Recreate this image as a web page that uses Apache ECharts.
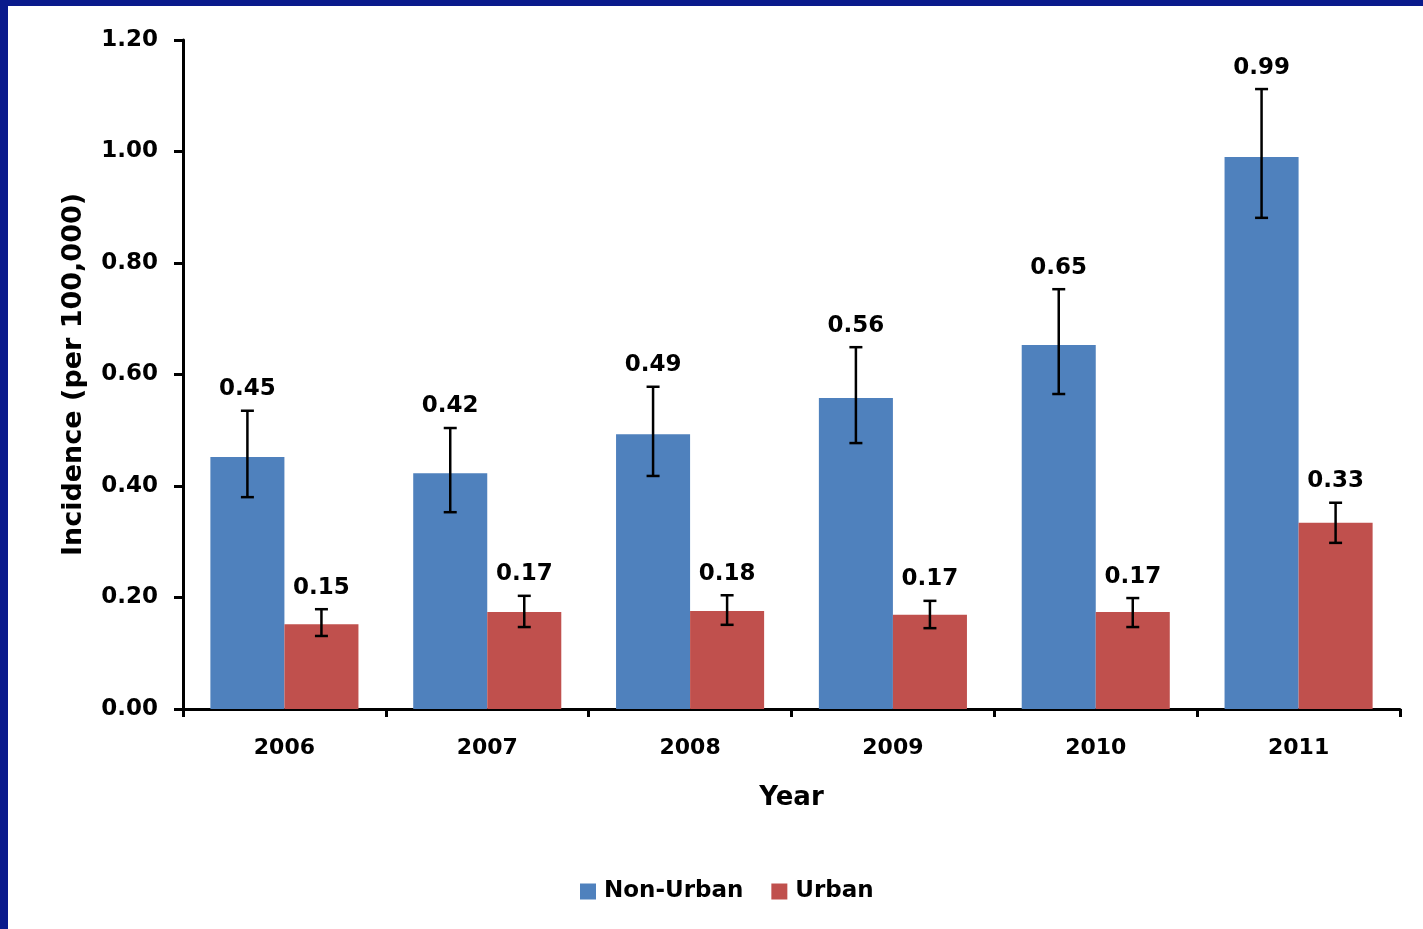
<!DOCTYPE html>
<html>
<head>
<meta charset="utf-8">
<script src="https://cdn.jsdelivr.net/npm/echarts@6/dist/echarts.min.js"></script>
<style>
html,body{margin:0;padding:0;background:#fff;}
#chart{width:1423px;height:929px;}
</style>
</head>
<body>
<div id="chart"></div>
<script>
var years = ['2006', '2007', '2008', '2009', '2010', '2011'];
var yTicks = [0, 0.2, 0.4, 0.6, 0.8, 1.0, 1.2];
var nonUrban = [0.452, 0.423, 0.493, 0.558, 0.653, 0.990];
var urban = [0.152, 0.174, 0.176, 0.169, 0.174, 0.334];
var nonUrbanLow = [0.380, 0.353, 0.418, 0.477, 0.565, 0.881];
var nonUrbanHigh = [0.535, 0.504, 0.578, 0.649, 0.753, 1.112];
var urbanLow = [0.131, 0.147, 0.151, 0.145, 0.147, 0.298];
var urbanHigh = [0.179, 0.203, 0.204, 0.194, 0.199, 0.370];

var FONT = '"DejaVu Sans", "Open Sans", sans-serif';
var CAT_GAP = 0.27;

function errData(vals, lows, highs) {
  return vals.map(function (v, i) { return [i, lows[i], highs[i], v]; });
}

function makeErrRender(sign) {
  return function (params, api) {
    var idx = api.value(0);
    var low = api.coord([idx, api.value(1)]);
    var high = api.coord([idx, api.value(2)]);
    var band = api.size([1, 0])[0];
    var barW = band * (1 - CAT_GAP) / 2;
    var x = low[0] + sign * barW / 2;
    var cap = 6.5;
    var st = { stroke: '#000', lineWidth: 2.5 };
    return {
      type: 'group',
      children: [
        { type: 'line', shape: { x1: x, y1: high[1], x2: x, y2: low[1] }, style: st },
        { type: 'line', shape: { x1: x - cap, y1: high[1], x2: x + cap, y2: high[1] }, style: st },
        { type: 'line', shape: { x1: x - cap, y1: low[1], x2: x + cap, y2: low[1] }, style: st },
        { type: 'text', x: x, y: high[1] - 10,
          style: { text: api.value(3).toFixed(2), textAlign: 'center', textVerticalAlign: 'bottom',
                   font: 'bold 23px ' + FONT, fill: '#000' } }
      ]
    };
  };
}

var chart = echarts.init(document.getElementById('chart'));
chart.setOption({
  backgroundColor: '#fff',
  animation: false,
  graphic: [
    { type: 'rect', left: 0, top: 0, shape: { width: 1423, height: 6 }, style: { fill: '#0A1A8C' }, z: 100 },
    { type: 'rect', left: 0, top: 0, shape: { width: 8, height: 929 }, style: { fill: '#0A1A8C' }, z: 100 }
  ],
  grid: { left: 183, right: 23, top: 40, bottom: 220, containLabel: false },
  legend: {
    data: ['Non-Urban', 'Urban'],
    left: 575, top: 875,
    icon: 'rect', itemWidth: 16, itemHeight: 16, itemGap: 28,
    textStyle: { fontFamily: FONT, fontWeight: 'bold', fontSize: 23, color: '#000', padding: [0, 0, 0, 3] }
  },
  xAxis: {
    type: 'category',
    data: years,
    name: 'Year', nameLocation: 'middle', nameGap: 76,
    nameTextStyle: { fontFamily: FONT, fontWeight: 'bold', fontSize: 26, color: '#000' },
    axisLine: { lineStyle: { color: '#000', width: 3 } },
    axisTick: { show: true, length: 8, lineStyle: { color: '#000', width: 3 } },
    axisLabel: { margin: 28, fontFamily: FONT, fontWeight: 'bold', fontSize: 22, color: '#000' }
  },
  yAxis: {
    type: 'value', min: 0, max: 1.2, interval: 0.2,
    name: 'Incidence (per 100,000)', nameLocation: 'middle', nameGap: 96,
    nameTextStyle: { fontFamily: FONT, fontWeight: 'bold', fontSize: 27, color: '#000' },
    axisLine: { show: true, lineStyle: { color: '#000', width: 3 } },
    axisTick: { show: true, length: 9, lineStyle: { color: '#000', width: 3 } },
    splitLine: { show: false },
    axisLabel: { margin: 25, fontFamily: FONT, fontWeight: 'bold', fontSize: 23, color: '#000',
      formatter: function (v) { return v.toFixed(2); } }
  },
  series: [
    { name: 'Non-Urban', type: 'bar', data: nonUrban, barGap: '0%', barCategoryGap: (CAT_GAP * 100) + '%',
      itemStyle: { color: '#4F81BD' } },
    { name: 'Urban', type: 'bar', data: urban, barGap: '0%', barCategoryGap: (CAT_GAP * 100) + '%',
      itemStyle: { color: '#C0504D' } },
    { type: 'custom', renderItem: makeErrRender(-1), data: errData(nonUrban, nonUrbanLow, nonUrbanHigh),
      encode: { x: 0, y: [1, 2] }, z: 10, clip: false },
    { type: 'custom', renderItem: makeErrRender(1), data: errData(urban, urbanLow, urbanHigh),
      encode: { x: 0, y: [1, 2] }, z: 10, clip: false }
  ]
});
</script>
</body>
</html>
